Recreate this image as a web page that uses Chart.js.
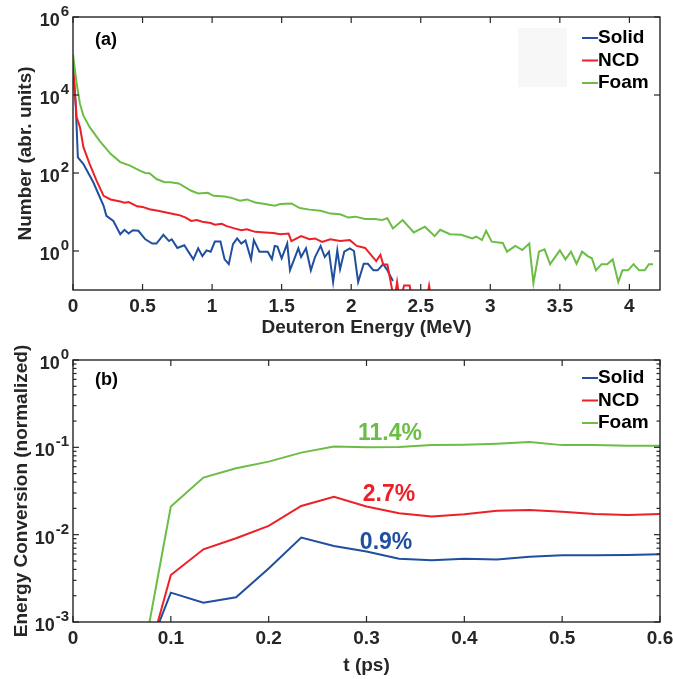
<!DOCTYPE html>
<html>
<head>
<meta charset="utf-8">
<script src="https://cdn.jsdelivr.net/npm/chart.js@4.4.1/dist/chart.umd.min.js"></script>
<style>
  html, body { margin: 0; padding: 0; background: #fff; }
  #wrap { position: relative; width: 673px; height: 679px; }
  .panel { position: absolute; left: 0; width: 673px; }
</style>
</head>
<body>
<div id="wrap">
  <div class="panel" style="top:0;height:340px"><canvas id="chartA" width="673" height="340"></canvas></div>
  <div class="panel" style="top:340px;height:339px"><canvas id="chartB" width="673" height="339"></canvas></div>
</div>
<script>
// ---- data, panel (a): deuteron spectra ----
var seriesNames = ['Solid', 'NCD', 'Foam'];
var seriesColors = ['#1f4f9e', '#ec2027', '#6bbd45'];

var solidEnergy = [0, 0.02, 0.035, 0.075, 0.146, 0.22, 0.24, 0.29, 0.34, 0.37, 0.40, 0.43, 0.47, 0.52, 0.57, 0.60,
  0.65, 0.69, 0.71, 0.75, 0.80, 0.865, 0.90, 0.93, 0.96, 0.99, 1.02, 1.06, 1.09, 1.12, 1.15, 1.18, 1.21, 1.24,
  1.28, 1.30, 1.34, 1.40, 1.43, 1.45, 1.47, 1.50, 1.54, 1.56, 1.62, 1.64, 1.675, 1.71, 1.74, 1.78, 1.81, 1.84,
  1.87, 1.90, 1.92, 1.95, 1.99, 2.02, 2.05, 2.09, 2.12, 2.16, 2.19, 2.23, 2.26, 2.30];
var solidCounts = [5e4, 5000, 250, 170, 58, 14.4, 8, 5.9, 2.7, 3.5, 2.8, 3.4, 3.3, 2.0, 1.55, 1.55,
  2.6, 1.8, 2.0, 1.2, 1.4, 0.61, 1.17, 0.74, 1.04, 0.96, 1.74, 1.74, 0.61, 0.46, 1.5, 2.1, 1.55, 1.86,
  0.61, 1.9, 0.96, 0.96, 0.62, 1.35, 1.3, 0.65, 1.55, 0.32, 1.17, 0.7, 1.17, 0.32, 0.7, 1.35, 0.7, 0.96,
  0.16, 1.04, 0.34, 0.96, 1.17, 1.0, 0.16, 0.47, 0.47, 0.32, 0.32, 0.46, 0.32, 0.17];

var ncdEnergy = [0, 0.026, 0.05, 0.075, 0.12, 0.17, 0.22, 0.27, 0.34, 0.37, 0.40, 0.43, 0.46, 0.50, 0.55, 0.61,
  0.67, 0.73, 0.77, 0.81, 0.85, 0.89, 0.93, 0.99, 1.02, 1.07, 1.10, 1.16, 1.21, 1.25, 1.31, 1.38, 1.44, 1.49,
  1.55, 1.57, 1.64, 1.70, 1.74, 1.79, 1.85, 1.92, 1.99, 2.04, 2.10, 2.13, 2.18, 2.21, 2.23, 2.26, 2.28, 2.31,
  2.33, 2.35, 2.38, 2.42, 2.44, 2.54, 2.56, 2.58];
var ncdCounts = [7e4, 2700, 1500, 460, 170, 63, 26, 21, 18.6, 17.4, 18, 16, 14, 13.5, 11.8, 10.7,
  9.7, 8.8, 8.2, 7.2, 5.9, 6.2, 5.6, 5.2, 4.7, 5.0, 4.4, 3.8, 3.4, 3.6, 3.1, 3.0, 2.9, 2.7,
  2.8, 1.8, 2.4, 2.0, 2.1, 1.7, 2.0, 1.8, 1.9, 1.35, 1.2, 0.9, 0.55, 0.8, 0.45, 0.45, 0.19, 0.05,
  0.16, 0.05, 0.13, 0.13, 0.05, 0.05, 0.13, 0.05];

var foamEnergy = [0, 0.026, 0.05, 0.074, 0.12, 0.19, 0.27, 0.34, 0.41, 0.48, 0.52, 0.55, 0.60, 0.66, 0.70, 0.76,
  0.85, 0.90, 0.97, 1.01, 1.09, 1.14, 1.20, 1.25, 1.31, 1.38, 1.45, 1.49, 1.57, 1.63, 1.70, 1.78, 1.85, 1.92,
  1.98, 2.03, 2.10, 2.17, 2.22, 2.26, 2.30, 2.37, 2.45, 2.53, 2.56, 2.60, 2.64, 2.71, 2.79, 2.87, 2.90, 2.94,
  2.97, 3.01, 3.09, 3.12, 3.18, 3.23, 3.28, 3.31, 3.35, 3.39, 3.43, 3.50, 3.54, 3.58, 3.62, 3.66, 3.70, 3.73,
  3.76, 3.80, 3.84, 3.88, 3.92, 3.95, 3.99, 4.03, 4.07, 4.11, 4.14, 4.17];
var foamCounts = [1.1e5, 2e4, 6000, 3000, 1500, 680, 310, 190, 155, 115, 100, 98, 70, 58, 58, 54,
  35, 30, 31, 26, 25, 23, 19.5, 21, 17.5, 16, 14.4, 16, 16.6, 12.6, 11.5, 10.7, 9.1, 8.7,
  7.2, 7.6, 6.6, 6.6, 6.2, 6.9, 3.8, 6.2, 3.0, 4.2, 3.3, 2.4, 3.5, 2.7, 2.6, 2.1, 2.35, 1.9,
  3.3, 1.74, 1.6, 0.96, 1.35, 1.06, 1.55, 0.15, 0.96, 1.1, 0.46, 1.04, 0.61, 0.96, 0.47, 0.96, 0.74, 0.65,
  0.32, 0.46, 0.46, 0.61, 0.16, 0.32, 0.32, 0.46, 0.32, 0.32, 0.46, 0.46];

var energyTicks = [0, 0.5, 1, 1.5, 2, 2.5, 3, 3.5, 4];
var countTicks = [1, 1e2, 1e4, 1e6];

// ---- data, panel (b): energy conversion vs time ----
var timePs = [0.0667, 0.1, 0.1333, 0.1667, 0.2, 0.2333, 0.2667, 0.3, 0.3333, 0.3667, 0.4, 0.4333, 0.4667,
  0.5, 0.5333, 0.5667, 0.6];
var solidConv = [2.4e-4, 2.17e-3, 1.66e-3, 1.92e-3, 4.1e-3, 9.25e-3, 7.4e-3, 6.4e-3, 5.3e-3, 5.09e-3, 5.3e-3,
  5.18e-3, 5.6e-3, 5.8e-3, 5.8e-3, 5.85e-3, 5.95e-3];
var ncdConv = [1.55e-4, 3.45e-3, 6.8e-3, 9.1e-3, 0.0126, 0.0213, 0.0272, 0.021, 0.0176, 0.0161, 0.0171,
  0.0188, 0.0191, 0.0183, 0.0173, 0.0168, 0.0173];
var foamConv = [2e-4, 0.021, 0.045, 0.0577, 0.0686, 0.087, 0.102, 0.1, 0.101, 0.106, 0.107, 0.110, 0.115,
  0.106, 0.106, 0.104, 0.104];

var timeTicks = [0, 0.1, 0.2, 0.3, 0.4, 0.5, 0.6];
var convTicks = [1e-3, 1e-2, 1e-1, 1];
var convLabels = ['0.9%', '2.7%', '11.4%'];
var convLabelAt = [[0.32, 0.008], [0.323, 0.029], [0.324, 0.143]];

var FONT = '"Liberation Sans", Arial, Helvetica, sans-serif';
var AXIS = '#262626';
Chart.defaults.font.family = FONT;
Chart.defaults.color = AXIS;

function pts(xs, ys) {
  return xs.map(function (x, i) { return { x: x, y: ys[i] }; });
}

function line(ctx, x1, y1, x2, y2) {
  ctx.beginPath(); ctx.moveTo(x1, y1); ctx.lineTo(x2, y2); ctx.stroke();
}

// box, inward ticks, superscript labels, legend and notes (MATLAB look)
var framePlugin = {
  id: 'frame',
  beforeDatasetsDraw: function (chart, args, o) {
    if (!o.shade) return;
    var a = chart.chartArea, ctx = chart.ctx;
    ctx.save();
    ctx.fillStyle = '#f7f7f7';
    ctx.fillRect(a.right - 142, a.top + 11, 49, 59);
    ctx.restore();
  },
  afterDatasetsDraw: function (chart, args, o) {
    var ctx = chart.ctx, a = chart.chartArea;
    var xs = chart.scales.x, ys = chart.scales.y;
    ctx.save();
    ctx.strokeStyle = AXIS;
    ctx.lineWidth = 1.4;
    ctx.strokeRect(a.left, a.top, a.right - a.left, a.bottom - a.top);

    ctx.lineWidth = 1.2;
    o.xTicks.forEach(function (v) {
      var px = xs.getPixelForValue(v);
      line(ctx, px, a.bottom, px, a.bottom - 6);
      line(ctx, px, a.top, px, a.top + 6);
    });
    o.yTicks.forEach(function (v) {
      var py = ys.getPixelForValue(v);
      line(ctx, a.left, py, a.left + 6, py);
      line(ctx, a.right, py, a.right - 6, py);
    });
    if (o.minor) {
      for (var e = -3; e < 0; e++) {
        for (var k = 2; k < 10; k++) {
          var py = ys.getPixelForValue(k * Math.pow(10, e));
          line(ctx, a.left, py, a.left + 3.5, py);
          line(ctx, a.right, py, a.right - 3.5, py);
        }
      }
    }

    // y tick labels: 10 with exponent
    o.yTicks.forEach(function (v) {
      var py = ys.getPixelForValue(v);
      var ex = String(Math.round(Math.log10(v)));
      ctx.fillStyle = AXIS;
      ctx.textBaseline = 'middle';
      ctx.font = 'bold 15px ' + FONT;
      var w = ctx.measureText(ex).width;
      var xr = a.left - 4;
      ctx.textAlign = 'left';
      ctx.fillText(ex, xr - w, py - 5);
      ctx.font = 'bold 18px ' + FONT;
      ctx.textAlign = 'right';
      ctx.fillText('10', xr - w - 1, py + 4);
    });

    // legend
    ctx.font = 'bold 19px ' + FONT;
    ctx.textAlign = 'left';
    ctx.textBaseline = 'middle';
    seriesNames.forEach(function (name, i) {
      var y = a.top + o.legendTop + i * 22.5;
      ctx.strokeStyle = seriesColors[i];
      ctx.lineWidth = 2;
      line(ctx, a.right - 78, y, a.right - 62, y);
      ctx.fillStyle = '#000';
      ctx.fillText(name, a.right - 62, y);
    });

    // panel tag
    ctx.font = 'bold 18px ' + FONT;
    ctx.fillStyle = '#000';
    ctx.fillText(o.tag, a.left + 22, a.top + o.tagTop);

    // percentage notes
    if (o.notes) {
      ctx.font = 'bold 23px ' + FONT;
      ctx.textAlign = 'center';
      o.notes.forEach(function (txt, i) {
        ctx.fillStyle = seriesColors[i];
        ctx.fillText(txt, xs.getPixelForValue(convLabelAt[i][0]), ys.getPixelForValue(convLabelAt[i][1]));
      });
    }
    ctx.restore();
  }
};

function makeDatasets(xArrs, yArrs) {
  return seriesNames.map(function (name, i) {
    return {
      label: name,
      data: pts(xArrs[i], yArrs[i]),
      borderColor: seriesColors[i],
      borderWidth: 2,
      pointRadius: 0,
      tension: 0,
      order: 3 - i
    };
  });
}

function xAxis(min, max, ticks, title, height, titlePad) {
  return {
    type: 'linear', min: min, max: max,
    grid: { display: false, drawTicks: false }, border: { display: false },
    afterBuildTicks: function (s) { s.ticks = ticks.map(function (v) { return { value: v }; }); },
    afterFit: function (s) { s.height = height; s.paddingLeft = 0; s.paddingRight = 0; },
    ticks: { autoSkip: false, maxRotation: 0, padding: 5, color: AXIS,
      font: { size: 19, weight: 'bold' }, callback: function (v) { return String(v); } },
    title: { display: true, text: title, color: AXIS, font: { size: 19, weight: 'bold' },
      padding: { top: 0, bottom: titlePad } }
  };
}

function yAxis(min, max, ticks, title, titlePad) {
  return {
    type: 'logarithmic', min: min, max: max,
    grid: { display: false, drawTicks: false }, border: { display: false },
    afterBuildTicks: function (s) { s.ticks = ticks.map(function (v) { return { value: v }; }); },
    afterFit: function (s) { s.width = 73; },
    ticks: { display: false },
    title: { display: true, text: title, color: AXIS, font: { size: 19, weight: 'bold' },
      padding: { top: titlePad, bottom: 0 } }
  };
}

new Chart(document.getElementById('chartA'), {
  type: 'line',
  data: { datasets: makeDatasets([solidEnergy, ncdEnergy, foamEnergy], [solidCounts, ncdCounts, foamCounts]) },
  options: {
    responsive: false, animation: false, devicePixelRatio: 1,
    layout: { padding: { left: 0, right: 13, top: 17, bottom: 0 } },
    scales: {
      x: xAxis(0, 4.22, energyTicks, 'Deuteron Energy (MeV)', 50, 1),
      y: yAxis(0.1, 1e6, countTicks, 'Number (abr. units)', 14)
    },
    plugins: {
      legend: { display: false }, tooltip: { enabled: false },
      frame: { xTicks: energyTicks, yTicks: countTicks, minor: false, legendTop: 21, tag: '(a)', tagTop: 23, shade: true }
    }
  },
  plugins: [framePlugin]
});

new Chart(document.getElementById('chartB'), {
  type: 'line',
  data: { datasets: makeDatasets([timePs, timePs, timePs], [solidConv, ncdConv, foamConv]) },
  options: {
    responsive: false, animation: false, devicePixelRatio: 1,
    layout: { padding: { left: 0, right: 13, top: 20, bottom: 0 } },
    scales: {
      x: xAxis(0, 0.6, timeTicks, 't (ps)', 57, 2),
      y: yAxis(1e-3, 1, convTicks, 'Energy Conversion (normalized)', 10)
    },
    plugins: {
      legend: { display: false }, tooltip: { enabled: false },
      frame: { xTicks: timeTicks, yTicks: convTicks, minor: true, legendTop: 18, tag: '(b)', tagTop: 20, notes: convLabels }
    }
  },
  plugins: [framePlugin]
});
</script>
</body>
</html>
